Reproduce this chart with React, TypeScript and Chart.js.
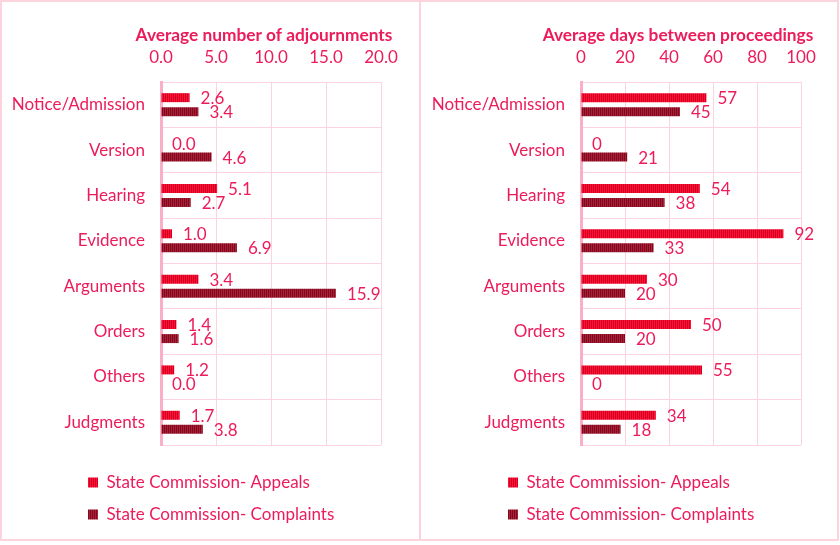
import { useEffect, useRef } from "react";
import { Chart, registerables } from "chart.js";

Chart.register(...registerables);

// ---- data ----
const categories = [
  "Notice/Admission",
  "Version",
  "Hearing",
  "Evidence",
  "Arguments",
  "Orders",
  "Others",
  "Judgments",
];
const seriesNames = ["State Commission- Appeals", "State Commission- Complaints"];

const adjournAppeals = [2.6, 0.0, 5.1, 1.0, 3.4, 1.4, 1.2, 1.7];
const adjournComplaints = [3.4, 4.6, 2.7, 6.9, 15.9, 1.6, 0.0, 3.8];
const adjournTitle = "Average number of adjournments";
const adjournAxis = [0, 20, 5]; // min, max, step

const daysAppeals = [57, 0, 54, 92, 30, 50, 55, 34];
const daysComplaints = [45, 21, 38, 33, 20, 20, 0, 18];
const daysTitle = "Average days between proceedings";
const daysAxis = [0, 100, 20];

// ---- styles ----
const textColor = "#ec1b5a";
const gridColor = "#fcd3df";
const axisColor = "#f9b0c6";
const FONT = "Lato";
const FS = 17;
const TITLE_FS = 17.3;

function makePattern(a: string, b: string) {
  const c = document.createElement("canvas");
  c.width = 2;
  c.height = 1;
  const x = c.getContext("2d")!;
  x.fillStyle = a;
  x.fillRect(0, 0, 1, 1);
  x.fillStyle = b;
  x.fillRect(1, 0, 1, 1);
  return x.createPattern(c, "repeat")!;
}

const valueLabels = {
  id: "valueLabels",
  afterDatasetsDraw(chart: any, _args: any, opts: any) {
    const ctx = chart.ctx;
    ctx.save();
    ctx.font = `${FS}px ${FONT}`;
    ctx.fillStyle = textColor;
    ctx.textBaseline = "middle";
    ctx.textAlign = "left";
    chart.data.datasets.forEach((ds: any, i: number) => {
      const meta = chart.getDatasetMeta(i);
      meta.data.forEach((el: any, j: number) => {
        const v = Number(ds.data[j]);
        ctx.fillText(v.toFixed(opts.decimals || 0), el.x + 11, el.y + 1);
      });
    });
    ctx.restore();
  },
};

const axisTitle = {
  id: "axisTitle",
  afterDraw(chart: any, _args: any, opts: any) {
    const ctx = chart.ctx;
    const a = chart.chartArea;
    ctx.save();
    ctx.font = `bold ${TITLE_FS}px ${FONT}`;
    ctx.fillStyle = textColor;
    ctx.textBaseline = "middle";
    ctx.textAlign = "center";
    ctx.fillText(opts.text, (a.left + a.right) / 2 + (opts.shift || 0), 35);
    ctx.restore();
  },
};

const legendShift = {
  id: "legendShift",
  afterLayout(chart: any) {
    const lg = chart.legend;
    if (!lg) return;
    const w = lg.width;
    const h = lg.height;
    lg.left = 73;
    lg.right = 73 + w;
    lg.top = 459;
    lg.bottom = 459 + h;
  },
};

function buildChart(
  canvas: HTMLCanvasElement,
  appeals: number[],
  complaints: number[],
  title: string,
  titleShift: number,
  axis: number[],
  decimals: number
) {
  const pA = makePattern("#ff1038", "#d0001e");
  const pC = makePattern("#85081a", "#a5223c");
  return new Chart(canvas, {
    type: "bar",
    data: {
      labels: categories,
      datasets: [
        {
          label: seriesNames[0],
          data: appeals,
          backgroundColor: pA as any,
          borderWidth: 0,
          categoryPercentage: 0.62,
          barPercentage: 0.64,
        },
        {
          label: seriesNames[1],
          data: complaints,
          backgroundColor: pC as any,
          borderWidth: 0,
          categoryPercentage: 0.62,
          barPercentage: 0.64,
        },
      ],
    },
    plugins: [valueLabels, legendShift, axisTitle],
    options: {
      indexAxis: "y",
      responsive: false,
      animation: false,
      devicePixelRatio: 1,
      layout: { padding: { left: 0, right: 39, top: 0, bottom: 26 } },
      scales: {
        x: {
          position: "top",
          min: axis[0],
          max: axis[1],
          ticks: {
            stepSize: axis[2],
            callback: (v: any) => Number(v).toFixed(decimals),
            color: textColor,
            font: { family: FONT, size: FS },
            padding: 14,
          },
          grid: { color: gridColor, drawTicks: false },
          border: { color: gridColor, width: 1 },
          afterFit(s: any) {
            s.height = 82;
          },
        },
        y: {
          grid: { color: gridColor, drawTicks: false, offset: true },
          border: { color: axisColor, width: 3 },
          ticks: {
            color: textColor,
            font: { family: FONT, size: FS },
            padding: 16,
          },
          afterFit(s: any) {
            s.width = 161;
          },
        },
      },
      plugins: {
        legend: {
          position: "bottom",
          align: "start",
          labels: {
            boxWidth: 10,
            boxHeight: 10,
            padding: 15,
            color: textColor,
            font: { family: FONT, size: FS },
          },
        },
        tooltip: { enabled: false },
        valueLabels: { decimals },
        axisTitle: { text: title, shift: titleShift },
      } as any,
    },
  } as any);
}

export default function App() {
  const leftRef = useRef<HTMLCanvasElement>(null);
  const rightRef = useRef<HTMLCanvasElement>(null);

  useEffect(() => {
    const c1 = buildChart(leftRef.current!, adjournAppeals, adjournComplaints, adjournTitle, -7, adjournAxis, 1);
    const c2 = buildChart(rightRef.current!, daysAppeals, daysComplaints, daysTitle, -13, daysAxis, 0);
    let alive = true;
    if ((document as any).fonts) {
      Promise.all([
        (document as any).fonts.load(`${FS}px ${FONT}`),
        (document as any).fonts.load(`bold ${TITLE_FS}px ${FONT}`),
      ]).then(() => {
        if (alive) {
          c1.update();
          c2.update();
        }
      });
    }
    return () => {
      alive = false;
      c1.destroy();
      c2.destroy();
    };
  }, []);

  return (
    <div style={{ position: "absolute", left: 0, top: 0, width: 840, height: 545, background: "#fff" }}>
      <canvas ref={leftRef} width={420} height={545} style={{ position: "absolute", left: 0, top: 0 }} />
      <canvas ref={rightRef} width={420} height={545} style={{ position: "absolute", left: 420, top: 0 }} />
      <div
        style={{
          position: "absolute",
          left: 0,
          top: 0,
          width: 839,
          height: 541,
          boxSizing: "border-box",
          border: "2px solid #fdd3de",
          pointerEvents: "none",
        }}
      />
      <div
        style={{
          position: "absolute",
          left: 419,
          top: 0,
          width: 2,
          height: 541,
          background: "#fdd3de",
          pointerEvents: "none",
        }}
      />
    </div>
  );
}
